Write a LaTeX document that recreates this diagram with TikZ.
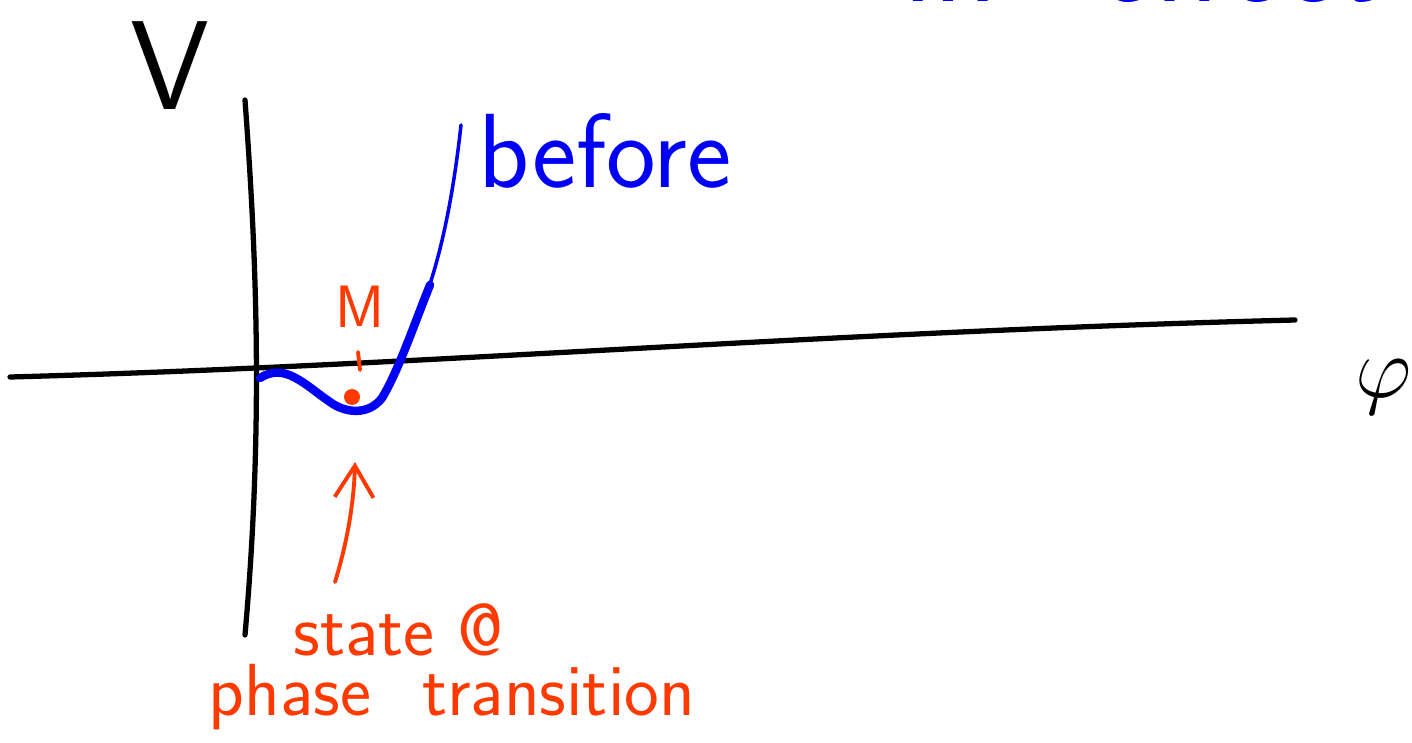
\documentclass[tikz,border=0pt]{standalone}
\usetikzlibrary{arrows.meta,calc}
\definecolor{pen}{HTML}{0000F5}
\definecolor{red}{HTML}{FF3A00}
\tikzset{
  axis/.style={line width=1.5pt, black, line cap=round},
  curve/.style={line width=2.4pt, pen, line cap=round},
  thincurve/.style={line width=1.0pt, pen, line cap=round},
  note/.style={red, font=\sffamily\fontsize{21}{24}\selectfont, inner sep=0pt},
  redline/.style={red, line width=1.1pt, line cap=round},
}
\begin{document}
\begin{tikzpicture}[x=0.01cm,y=-0.01cm]
\useasboundingbox (0,0) rectangle (1412,743);
% axes
\coordinate (ytop) at (245,100);
\coordinate (ybot) at (245,635);
\coordinate (xl) at (10,377);
\coordinate (xr) at (1295,320);
\draw[axis] (ytop) .. controls (256,250) and (264,420) .. (ybot);
\draw[axis] (xl) .. controls (420,366) and (820,332) .. (xr);
\node[font=\sffamily\fontsize{36}{36}\selectfont, anchor=base, inner sep=0pt] (V) at (170,110) {V};
\node[font=\fontsize{52}{52}\selectfont, anchor=base, inner sep=0pt] (phi) at (1384,398) {$\varphi$};
% potential
\coordinate (c0) at (260,378);
\coordinate (cmin) at (330,402);
\coordinate (c1) at (430,285);
\coordinate (c2) at (461,125);
\draw[curve] (c0) .. controls (285,362) and (305,385) .. (cmin)
  .. controls (345,413) and (368,416) .. (382,398)
  .. controls (398,372) and (415,322) .. (c1);
\draw[thincurve] ($(c1)+(-2,5)$) .. controls (445,240) and (455,180) .. (c2);
\node[pen, font=\sffamily\fontsize{30}{30}\selectfont, anchor=base west, inner sep=0pt] (before) at (478,188) {before};
\node[pen, font=\sffamily\fontsize{38}{38}\selectfont, anchor=base west, inner sep=0pt] (effect) at (903,2) {in\hspace{28pt}effect};
% M and minimum
\node[red, font=\sffamily\fontsize{17}{17}\selectfont, anchor=base] (M) at (360,328) {M};
\coordinate (d1) at (358,352);
\coordinate (d2) at (360,370);
\draw[redline] (d1) -- (d2);
\fill[red] (352,397) circle (8);
% arrow and annotation
\coordinate (tail) at (335,582);
\coordinate (tip) at (355,462);
\draw[redline, -{Straight Barb[length=9pt,width=11pt,line width=1.1pt]}] (tail) .. controls (348,540) and (354,500) .. (tip);
\node[note, anchor=base west] (state) at (293,655) {state @};
\node[note, anchor=base west] (phase) at (208,715) {phase\hspace{8pt} transition};
\end{tikzpicture}
\end{document}
